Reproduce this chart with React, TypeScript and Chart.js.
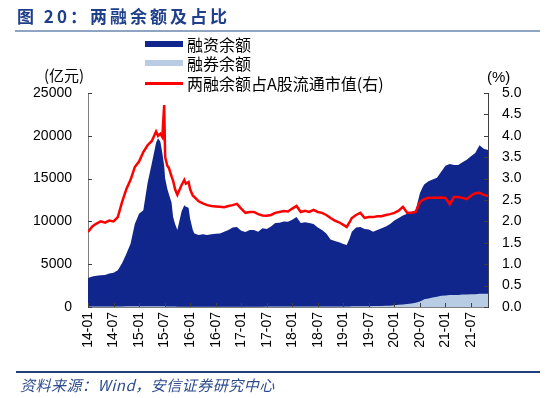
import React, { useEffect, useRef } from 'react';
import { Chart, registerables } from 'chart.js';

Chart.register(...registerables);

const dates = [
  '2014-01-01', '2014-02-01', '2014-03-01', '2014-04-01', '2014-05-01', '2014-06-01',
  '2014-07-01', '2014-08-01', '2014-09-01', '2014-10-01', '2014-11-01', '2014-12-01',
  '2015-01-01', '2015-02-01', '2015-03-01', '2015-04-01', '2015-05-01', '2015-05-15',
  '2015-06-01', '2015-06-15', '2015-06-28', '2015-07-05', '2015-07-20', '2015-08-01',
  '2015-08-20', '2015-09-01', '2015-09-15', '2015-10-01', '2015-11-01', '2015-11-20',
  '2015-12-01', '2015-12-20', '2016-01-01', '2016-01-20', '2016-02-01', '2016-03-01',
  '2016-04-01', '2016-05-01', '2016-06-01', '2016-07-01', '2016-08-01', '2016-09-01',
  '2016-10-01', '2016-11-01', '2016-12-01', '2017-01-01', '2017-02-01', '2017-03-01',
  '2017-04-01', '2017-05-01', '2017-06-01', '2017-07-01', '2017-08-01', '2017-09-01',
  '2017-10-01', '2017-11-01', '2017-12-01', '2018-01-01', '2018-02-01', '2018-03-01',
  '2018-04-01', '2018-05-01', '2018-06-01', '2018-07-01', '2018-08-01', '2018-09-01',
  '2018-10-01', '2018-11-01', '2018-12-01', '2019-01-01', '2019-01-25', '2019-02-15',
  '2019-03-01', '2019-04-01', '2019-05-01', '2019-06-01', '2019-07-01', '2019-08-01',
  '2019-09-01', '2019-10-01', '2019-11-01', '2019-12-01', '2020-01-01', '2020-02-01',
  '2020-03-01', '2020-04-01', '2020-05-01', '2020-06-01', '2020-07-01', '2020-07-20',
  '2020-08-01', '2020-09-01', '2020-10-01', '2020-11-01', '2020-12-01', '2021-01-01',
  '2021-02-01', '2021-03-01', '2021-04-01', '2021-05-01', '2021-06-01', '2021-07-01',
  '2021-08-01', '2021-09-01', '2021-10-01', '2021-11-01',
];

// 融资余额 (亿元)
const financing = [
  3400, 3550, 3650, 3700, 3750, 3900,
  4000, 4300, 5100, 6200, 7400, 9700,
  10900, 11300, 14500, 16800, 19200, 19700,
  19300, 18000, 16500, 15000, 13800, 13200,
  12200, 10500, 9700, 9000, 11200, 11900,
  11700, 11600, 10300, 9000, 8600, 8400,
  8500, 8400, 8500, 8550, 8600, 8800,
  9000, 9300, 9350, 8900, 8750, 9000,
  9000, 8800, 9200, 9100, 9400, 9800,
  9850, 10000, 9950, 10200, 10500, 9800,
  9900, 9800, 9700, 9300, 9000, 8600,
  7900, 7700, 7550, 7350, 7250, 8000,
  8800, 9300, 9350, 9100, 9050, 8800,
  9000, 9200, 9400, 9700, 10100, 10400,
  10700, 10900, 11100, 11300, 13300, 14000,
  14300, 14700, 14900, 15100, 15800, 16500,
  16700, 16600, 16600, 16900, 17200, 17600,
  18000, 18900, 18500, 18350,
];

// 融券余额 (亿元)
const shortBalance = [
  50, 50, 55, 55, 55, 60,
  60, 65, 70, 75, 80, 85,
  90, 90, 95, 100, 100, 100,
  100, 95, 90, 80, 70, 60,
  55, 50, 45, 40, 40, 40,
  40, 40, 35, 30, 30, 30,
  30, 30, 30, 30, 30, 30,
  35, 35, 35, 40, 40, 40,
  40, 40, 40, 45, 50, 55,
  55, 60, 60, 65, 65, 70,
  70, 70, 70, 65, 65, 60,
  60, 60, 60, 65, 65, 70,
  75, 85, 90, 95, 100, 110,
  120, 130, 140, 160, 200, 250,
  300, 350, 400, 500, 650, 800,
  900, 1000, 1100, 1200, 1300, 1350,
  1400, 1400, 1400, 1450, 1450, 1500,
  1500, 1550, 1550, 1550,
];

// 两融余额占A股流通市值 (%)
const ratio = [
  1.75, 1.88, 1.95, 2.0, 1.97, 2.02,
  2.0, 2.1, 2.45, 2.75, 2.97, 3.27,
  3.4, 3.62, 3.78, 3.88, 4.1, 4.0,
  4.05, 3.97, 4.72, 3.5, 3.3, 3.25,
  3.05, 2.95, 2.75, 2.62, 2.85, 2.97,
  2.88, 2.92, 2.75, 2.6, 2.57, 2.47,
  2.42, 2.38, 2.36, 2.35, 2.34, 2.33,
  2.36, 2.38, 2.41, 2.3, 2.2, 2.22,
  2.22, 2.17, 2.14, 2.13, 2.15, 2.2,
  2.22, 2.24, 2.23, 2.3, 2.36, 2.22,
  2.25, 2.22, 2.27, 2.22, 2.2, 2.15,
  2.08, 2.02, 1.98, 1.92, 1.87, 1.98,
  2.08, 2.15, 2.2, 2.08, 2.1, 2.1,
  2.12, 2.12, 2.15, 2.17, 2.2, 2.25,
  2.34, 2.2, 2.2, 2.22, 2.45, 2.5,
  2.52, 2.55, 2.55, 2.55, 2.56, 2.55,
  2.4, 2.57, 2.57, 2.55, 2.52, 2.6,
  2.66, 2.67, 2.62, 2.59,
];

const xTickLabels = [
  '14-01', '14-07', '15-01', '15-07', '16-01', '16-07', '17-01', '17-07',
  '18-01', '18-07', '19-01', '19-07', '20-01', '20-07', '21-01', '21-07',
];

const legendLabels = ['融资余额', '融券余额', '两融余额占A股流通市值(右)'];

const toMonth = (d: string) => {
  const [y, m, day] = d.split('-').map(Number);
  return (y - 2014) * 12 + (m - 1) + ((day || 1) - 1) / 30;
};

const xTickMonths = xTickLabels.map((l) => toMonth('20' + l + '-01'));

const FONT = "'Liberation Sans', Arial, sans-serif";
const CJK = "'Noto Sans CJK SC', 'Liberation Sans', sans-serif";
const DARK = 'rgb(16,38,140)';
const LIGHT = 'rgb(184,204,228)';
const RED = 'rgb(255,0,0)';

const innerTicks = {
  id: 'innerTicks',
  afterDatasetsDraw(chart: any) {
    const { ctx, chartArea } = chart;
    const { left, right, bottom } = chartArea;
    ctx.save();
    ctx.strokeStyle = '#404040';
    ctx.lineWidth = 1;
    ctx.beginPath();
    const y = chart.scales.y;
    y.ticks.forEach((t: any) => {
      const p = Math.round(y.getPixelForValue(t.value)) + 0.5;
      ctx.moveTo(left, p);
      ctx.lineTo(left + 4, p);
    });
    const y1 = chart.scales.y1;
    y1.ticks.forEach((t: any) => {
      const p = Math.round(y1.getPixelForValue(t.value)) + 0.5;
      ctx.moveTo(right, p);
      ctx.lineTo(right - 4, p);
    });
    const x = chart.scales.x;
    x.ticks.forEach((t: any) => {
      const p = Math.round(x.getPixelForValue(t.value)) + 0.5;
      ctx.moveTo(p, bottom);
      ctx.lineTo(p, bottom - 4);
    });
    ctx.stroke();
    ctx.restore();
  },
};

export default function App() {
  const ref = useRef<HTMLCanvasElement | null>(null);

  useEffect(() => {
    if (!ref.current) return;
    const xs = dates.map(toMonth);
    const chart = new Chart(ref.current, {
      type: 'line',
      data: {
        datasets: [
          {
            label: legendLabels[0],
            data: xs.map((x, i) => ({ x, y: financing[i] })),
            yAxisID: 'y',
            borderWidth: 0,
            borderColor: DARK,
            backgroundColor: DARK,
            fill: 'origin',
            pointRadius: 0,
            order: 3,
          },
          {
            label: legendLabels[1],
            data: xs.map((x, i) => ({ x, y: shortBalance[i] })),
            yAxisID: 'y',
            borderWidth: 0,
            borderColor: LIGHT,
            backgroundColor: LIGHT,
            fill: 'origin',
            pointRadius: 0,
            order: 2,
          },
          {
            label: legendLabels[2],
            data: xs.map((x, i) => ({ x, y: ratio[i] })),
            yAxisID: 'y1',
            borderWidth: 2.5,
            borderColor: RED,
            backgroundColor: RED,
            fill: false,
            pointRadius: 0,
            order: 1,
          },
        ],
      },
      options: {
        animation: false,
        responsive: false,
        maintainAspectRatio: false,
        layout: { padding: { top: 93, left: 0, right: 0, bottom: 0 } },
        plugins: { legend: { display: false }, tooltip: { enabled: false } },
        elements: { line: { tension: 0 }, point: { radius: 0 } },
        scales: {
          x: {
            type: 'linear',
            min: 0,
            max: 94,
            afterBuildTicks: (s: any) => {
              s.ticks = xTickMonths.map((v) => ({ value: v }));
            },
            afterFit: (s: any) => {
              s.height = 91;
            },
            grid: { drawOnChartArea: false, drawTicks: false },
            border: { color: '#7f7f7f', width: 1 },
            ticks: {
              autoSkip: false,
              minRotation: 90,
              maxRotation: 90,
              padding: 5,
              color: '#000',
              font: { family: FONT, size: 14 },
              callback: (v: any) => {
                const i = xTickMonths.findIndex((m) => Math.abs(m - v) < 0.01);
                return i >= 0 ? xTickLabels[i] : '';
              },
            },
          },
          y: {
            position: 'left',
            min: 0,
            max: 25000,
            afterFit: (s: any) => {
              s.width = 88;
            },
            grid: { drawOnChartArea: false, drawTicks: false },
            border: { color: '#7f7f7f', width: 1 },
            ticks: {
              stepSize: 5000,
              padding: 16,
              color: '#000',
              font: { family: FONT, size: 14 },
              callback: (v: any) => String(v),
            },
          },
          y1: {
            position: 'right',
            min: 0,
            max: 5,
            afterFit: (s: any) => {
              s.width = 62;
            },
            grid: { drawOnChartArea: false, drawTicks: false },
            border: { color: '#404040', width: 1 },
            ticks: {
              stepSize: 0.5,
              padding: 14,
              color: '#000',
              font: { family: FONT, size: 14 },
              callback: (v: any) => Number(v).toFixed(1),
            },
          },
        },
      },
      plugins: [innerTicks],
    } as any);
    return () => chart.destroy();
  }, []);

  const legendRow = (top: number, swatch: React.ReactNode, text: string) => (
    <div
      style={{
        position: 'absolute',
        left: 145,
        top: top - 10,
        height: 20,
        display: 'flex',
        alignItems: 'center',
        whiteSpace: 'nowrap',
      }}
    >
      <div style={{ width: 38, display: 'flex', alignItems: 'center' }}>{swatch}</div>
      <span style={{ marginLeft: 4, fontFamily: CJK, fontSize: 16, lineHeight: '20px', color: '#000' }}>{text}</span>
    </div>
  );

  return (
    <div
      style={{
        position: 'fixed',
        left: 0,
        top: 0,
        width: 550,
        height: 398,
        background: '#fff',
        overflow: 'hidden',
      }}
    >
      <canvas ref={ref} width={550} height={398} style={{ position: 'absolute', left: 0, top: 0, width: 550, height: 398 }} />
      <div
        style={{
          position: 'absolute',
          left: 17,
          top: 4,
          fontFamily: CJK,
          fontWeight: 'bold',
          fontSize: 17,
          letterSpacing: 3,
          lineHeight: '24px',
          color: '#1F3F8A',
          whiteSpace: 'nowrap',
        }}
      >
        图 20：两融余额及占比
      </div>
      <div style={{ position: 'absolute', left: 15, top: 30, width: 525, height: 2, background: '#8FA3C3' }} />
      <div
        style={{
          position: 'absolute',
          left: 44,
          top: 66,
          fontFamily: CJK,
          fontSize: 15,
          lineHeight: '18px',
          color: '#000',
          whiteSpace: 'nowrap',
        }}
      >
        (亿元)
      </div>
      <div
        style={{
          position: 'absolute',
          left: 487,
          top: 68,
          fontFamily: FONT,
          fontSize: 15,
          lineHeight: '18px',
          color: '#000',
          whiteSpace: 'nowrap',
        }}
      >
        (%)
      </div>
      {legendRow(44, <div style={{ width: 38, height: 6, background: DARK }} />, legendLabels[0])}
      {legendRow(63, <div style={{ width: 38, height: 6, background: LIGHT }} />, legendLabels[1])}
      {legendRow(83, <div style={{ width: 38, height: 3, background: RED }} />, legendLabels[2])}
      <div style={{ position: 'absolute', left: 16, top: 371, width: 524, height: 1.5, background: '#1F3F7A' }} />
      <div
        style={{
          position: 'absolute',
          left: 20,
          top: 375,
          fontFamily: CJK,
          fontStyle: 'italic',
          fontSize: 15,
          letterSpacing: 0.5,
          lineHeight: '20px',
          color: '#2E4C8C',
          whiteSpace: 'nowrap',
        }}
      >
        资料来源：Wind，安信证券研究中心
      </div>
    </div>
  );
}
